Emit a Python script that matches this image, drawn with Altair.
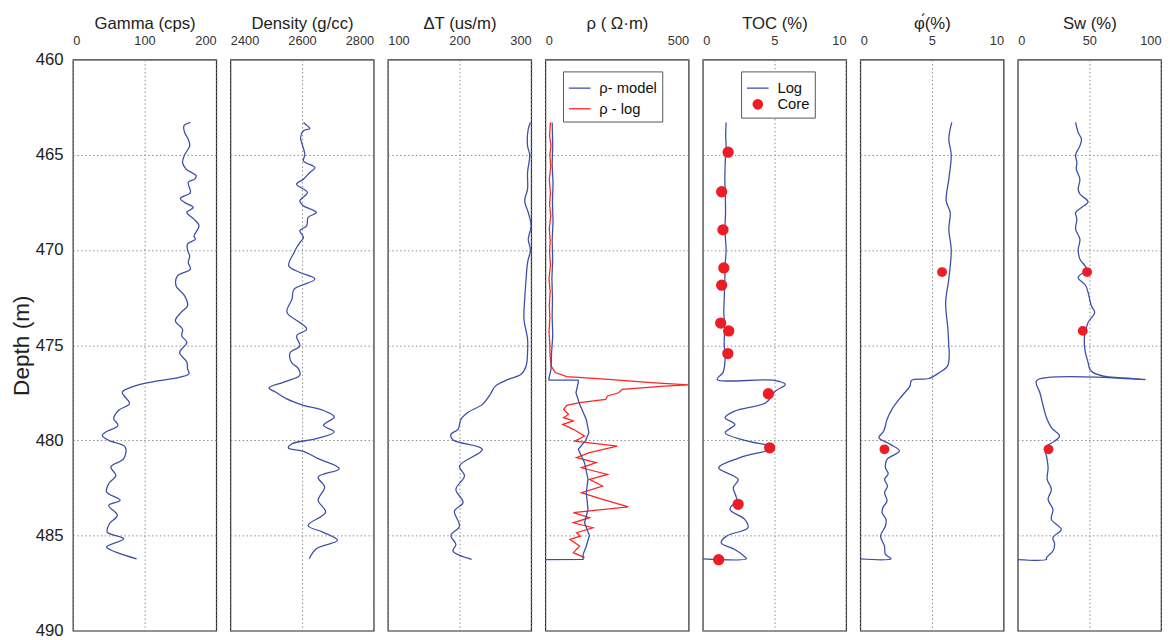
import altair as alt
import pandas as pd

# ---------------- data ----------------
gamma_depth = [463.30, 463.48, 463.83, 464.18, 464.53, 465.00, 465.40, 465.75, 466.10, 466.28,
               466.45, 466.98, 467.29, 467.50, 467.77, 468.03, 468.38, 468.73, 469.26, 469.43,
               469.69, 470.00, 470.31, 470.66, 471.01, 471.36, 471.88, 472.41, 472.93, 473.28,
               473.72, 474.16, 474.51, 474.86, 475.39, 475.88, 476.23, 476.50, 476.67, 476.94,
               477.11, 477.46, 477.64, 478.07, 478.42, 478.86, 479.21, 479.56, 479.74, 480.00,
               480.35, 480.96, 481.40, 481.84, 482.28, 482.71, 483.15, 483.42, 483.94, 484.38,
               484.82, 485.17, 485.60, 485.87, 486.22]
gamma_cps = [164, 155, 156, 161, 163, 156, 153, 158, 172, 170,
             161, 164, 150, 156, 168, 159, 169, 176, 169, 171,
             160, 160, 163, 161, 164, 146, 144, 156, 160, 151,
             143, 153, 152, 159, 149, 159, 160, 162, 151, 110,
             89, 69, 71, 79, 64, 57, 63, 46, 41, 50,
             73, 71, 53, 60, 50, 47, 66, 50, 62, 51,
             48, 71, 47, 60, 89]

density_depth = [463.30, 463.48, 463.62, 463.74, 464.09, 464.53, 465.00, 465.32, 465.67, 465.93,
                 466.28, 466.54, 466.98, 467.42, 467.68, 468.03, 468.29, 468.73, 468.99, 469.34,
                 469.61, 469.87, 470.13, 470.83, 471.18, 471.53, 472.06, 472.58, 473.28, 473.81,
                 474.16, 474.51, 475.04, 475.39, 475.88, 476.23, 476.58, 476.94, 477.25, 477.46,
                 477.81, 478.16, 478.42, 478.77, 479.21, 479.56, 479.91, 480.18, 480.40, 480.58,
                 480.96, 481.49, 481.93, 482.45, 483.15, 483.77, 484.47, 484.82, 485.25, 485.69,
                 486.22]
density_gcc = [2604, 2615, 2622, 2604, 2596, 2602, 2608, 2604, 2636, 2622,
               2604, 2585, 2615, 2594, 2604, 2640, 2617, 2613, 2594, 2604,
               2594, 2585, 2578, 2563, 2594, 2636, 2578, 2572, 2558, 2594,
               2613, 2585, 2594, 2567, 2570, 2590, 2594, 2549, 2508, 2526,
               2556, 2604, 2658, 2690, 2660, 2690, 2640, 2572, 2562, 2604,
               2645, 2704, 2645, 2663, 2645, 2666, 2617, 2658, 2699, 2640,
               2620]

dt_depth = [463.30, 463.65, 464.53, 465.00, 465.93, 466.80, 467.42, 468.03, 468.73, 469.43,
            470.00, 470.66, 471.53, 472.58, 473.63, 474.68, 475.39, 476.09, 476.53, 476.80,
            477.15, 477.58, 478.11, 478.55, 478.90, 479.42, 479.68, 479.98, 480.47, 481.35,
            481.87, 482.57, 483.27, 483.71, 484.50, 485.00, 485.46, 485.81, 486.25]
dt_usm = [299, 296, 295, 298, 295, 295, 291, 296, 300, 296,
          299, 295, 293, 291, 290, 295, 295, 293, 286, 268,
          250, 243, 232, 211, 202, 198, 188, 191, 232, 200,
          207, 195, 205, 193, 200, 188, 195, 191, 217]

rho_model_depth = [463.30, 464.50, 465.50, 466.50, 467.50, 468.50, 469.50, 470.50, 471.50, 472.50,
                   473.50, 474.50, 475.39, 476.27, 476.71, 476.83, 476.84, 476.97, 477.50, 478.11,
                   478.90, 479.60, 480.00, 480.47, 481.17, 482.05, 482.75, 483.63, 484.33, 485.00,
                   485.56, 485.99, 486.25, 486.26]
rho_model = [24, 26, 24, 27, 25, 27, 24, 26, 23, 25,
             24, 26, 22, 20, 13, 13, 115, 115, 107, 120,
             143, 152, 141, 115, 137, 149, 143, 149, 137, 154,
             143, 132, 132, 1]

rho_log_depth = [463.30, 464.00, 464.50, 465.00, 465.60, 466.30, 467.00, 467.60, 468.20, 468.90,
                 469.50, 470.10, 470.80, 471.50, 472.20, 472.90, 473.60, 474.30, 475.00, 475.39,
                 476.09, 476.44, 476.65, 476.80, 476.97, 477.09, 477.15, 477.32, 477.50, 477.67,
                 477.85, 478.02, 478.16, 478.37, 478.63, 478.81, 478.98, 479.16, 479.42, 479.77,
                 480.04, 480.30, 480.65, 480.91, 481.17, 481.44, 481.79, 482.05, 482.40, 482.75,
                 483.10, 483.49, 483.80, 484.06, 484.33, 484.59, 484.85, 485.03, 485.20, 485.55,
                 485.90, 486.16]
rho_log = [18, 15, 20, 16, 19, 14, 18, 15, 19, 14,
           17, 15, 18, 13, 17, 14, 16, 13, 16, 16,
           20, 35, 75, 221, 370, 500, 415, 268, 256, 217,
           211, 120, 75, 64, 81, 64, 98, 61, 98, 137,
           103, 251, 154, 109, 177, 126, 217, 154, 200, 126,
           200, 290, 98, 154, 98, 166, 109, 122, 86, 120,
           98, 137]

toc_depth = [463.30, 464.00, 464.53, 465.00, 465.80, 466.28, 467.00, 468.03, 469.00, 470.00,
             470.80, 471.53, 472.50, 473.28, 474.00, 475.04, 475.39, 476.09, 476.44, 476.80,
             476.85, 477.06, 477.41, 478.02, 478.46, 478.81, 479.16, 479.60, 480.00, 480.39,
             480.91, 481.44, 482.05, 482.49, 483.10, 483.63, 484.15, 484.59, 485.03, 485.38,
             485.73, 486.11, 486.22, 486.23]
toc_log = [1.63, 1.60, 1.63, 1.59, 1.55, 1.54, 1.57, 1.59, 1.55, 1.63,
           1.56, 1.54, 1.50, 1.47, 1.52, 1.50, 1.56, 1.52, 1.41, 1.00,
           4.97, 5.76, 5.08, 4.40, 2.24, 1.56, 2.24, 1.56, 2.93, 4.97,
           2.59, 1.11, 2.47, 2.13, 2.36, 1.90, 2.93, 3.15, 1.65, 1.29,
           2.24, 2.93, 3.04, 0.0]
toc_core_depth = [464.86, 466.94, 468.94, 470.94, 471.85, 473.84, 474.25, 475.44,
                  477.55, 480.39, 483.36, 486.27]
toc_core = [1.77, 1.32, 1.41, 1.47, 1.32, 1.25, 1.81, 1.75,
            4.58, 4.67, 2.47, 1.11]

phi_depth = [463.30, 464.18, 465.00, 466.28, 467.42, 468.03, 468.90, 470.00, 471.53, 472.76,
             474.16, 475.04, 475.39, 476.09, 476.44, 476.75, 476.85, 477.15, 477.67, 478.37,
             478.90, 479.51, 479.86, 480.21, 480.56, 481.00, 481.44, 481.75, 482.05, 482.40,
             482.75, 483.19, 483.50, 483.80, 484.15, 484.50, 485.03, 485.55, 485.99, 486.22,
             486.23]
phi_log = [6.39, 6.18, 6.35, 6.18, 6.00, 6.28, 6.18, 6.35, 6.18, 5.96,
           6.12, 6.18, 6.21, 6.10, 5.53, 4.80, 3.58, 3.47, 2.90, 2.21,
           1.87, 1.64, 1.30, 2.10, 2.74, 1.87, 1.76, 1.95, 1.70, 1.90,
           1.70, 1.87, 1.60, 1.53, 1.80, 1.76, 1.42, 1.69, 1.76, 2.15,
           0.0]
phi_core_depth = [471.16, 480.47]
phi_core = [5.71, 1.69]

sw_depth = [463.30, 463.83, 464.18, 464.53, 465.00, 465.40, 465.75, 466.28, 466.80, 467.06,
            467.47, 467.77, 468.03, 468.38, 468.90, 469.43, 470.00, 470.48, 471.01, 471.44,
            471.88, 472.93, 473.28, 473.81, 474.42, 475.21, 475.91, 476.26, 476.44, 476.62,
            476.71, 476.80, 476.86, 477.50, 478.20, 478.81, 479.33, 479.77, 480.04, 480.39,
            480.82, 481.44, 482.05, 482.57, 483.10, 483.63, 484.15, 484.68, 485.11, 485.46,
            485.81, 486.16, 486.25, 486.26]
sw_log = [40.4, 42.2, 44.5, 43.4, 40.4, 41.3, 40.9, 43.4, 42.2, 43.4,
          49.1, 44.5, 40.4, 41.3, 40.4, 43.4, 42.2, 43.4, 48.0, 42.2,
          47.5, 51.4, 53.7, 49.1, 46.8, 46.8, 49.1, 50.3, 52.7, 60.0,
          71.0, 89.0, 13.2, 15.5, 17.8, 20.1, 23.5, 29.2, 25.8, 19.0,
          20.1, 21.2, 20.6, 23.5, 21.2, 24.6, 23.5, 30.4, 24.6, 25.8,
          24.6, 20.1, 20.1, 0.0]
sw_core_depth = [471.16, 474.25, 480.47]
sw_core = [48.4, 45.4, 21.5]

y_ticks = [460, 465, 470, 475, 480, 485, 490]
rho_series = ["\u03c1- model", "\u03c1   - log"]
toc_series = ["Log", "Core"]

# ---------------- style ----------------
FONT = "Liberation Sans"
BLUE = "#3c4fa8"
RED = "#ff2424"
CORE = "#ee1c24"
PANEL_W = 145.8
PANEL_H = 581
LW = 1.3
SMOOTH = "catmull-rom"


def frame(depths, vals, series=None):
    d = pd.DataFrame({"depth": depths, "val": vals})
    d["idx"] = range(len(d))
    if series is not None:
        d["series"] = series
    return d


def y_enc(first):
    if first:
        axis = alt.Axis(values=y_ticks, title="Depth (m)", labelFontSize=17, titleFontSize=23,
                        labelPadding=10, titlePadding=2, ticks=False, tickSize=0, domain=False,
                        titleFontWeight="normal", labelColor="#222", titleColor="#222")
    else:
        axis = alt.Axis(values=y_ticks, title=None, labels=False, ticks=False, tickSize=0,
                        labelPadding=0, domain=False, minExtent=0, maxExtent=0)
    return alt.Y("depth:Q", scale=alt.Scale(domain=[460, 490], reverse=True, nice=False, zero=False),
                  axis=axis)


def x_enc(title, domain, ticks):
    return alt.X("val:Q", scale=alt.Scale(domain=domain, nice=False, zero=False),
                 axis=alt.Axis(orient="top", values=ticks, title=title, labelFlush=True, format="d",
                               ticks=False, tickSize=0, domain=False, labelFontSize=13,
                               titleFontSize=17, labelPadding=12, titlePadding=3,
                               titleFontWeight="normal", labelColor="#333", titleColor="#222"))


def line_panel(depths, vals, title, domain, ticks, first=False, core=None):
    base = alt.Chart(frame(depths, vals)).mark_line(
        color=BLUE, strokeWidth=LW, clip=True, interpolate=SMOOTH).encode(
        x=x_enc(title, domain, ticks), y=y_enc(first), order="idx:Q")
    layers = [base]
    if core is not None:
        pts = alt.Chart(frame(core[0], core[1])).mark_point(
            filled=True, color=CORE, size=100, opacity=1).encode(
            x=x_enc(title, domain, ticks), y=y_enc(first))
        layers.append(pts)
    return alt.layer(*layers).properties(width=PANEL_W, height=PANEL_H)


p_gamma = line_panel(gamma_depth, gamma_cps, "Gamma (cps)", [0, 200], [0, 100, 200], first=True)
p_dens = line_panel(density_depth, density_gcc, "Density (g/cc)", [2400, 2800], [2400, 2600, 2800])
p_dt = line_panel(dt_depth, dt_usm, "\u0394T (us/m)", [100, 300], [100, 200, 300])

# resistivity panel
rho_leg = alt.Legend(title=None, orient="none", legendX=18, legendY=12,
                     symbolType="stroke", symbolSize=484, symbolStrokeWidth=LW,
                     labelFontSize=15, labelFont=FONT, strokeColor="#555",
                     fillColor="white", padding=5, rowPadding=1,
                     labelOffset=8, labelColor="#111")
rho_model_chart = alt.Chart(frame(rho_model_depth, rho_model, rho_series[0])).mark_line(
    strokeWidth=LW, clip=True).encode(
    x=x_enc("\u03c1 ( \u03a9\u00b7m)", [0, 500], [0, 500]), y=y_enc(False), order="idx:Q",
    stroke=alt.Stroke("series:N", scale=alt.Scale(domain=rho_series, range=[BLUE, RED]), legend=rho_leg))
rho_log_chart = alt.Chart(frame(rho_log_depth, rho_log, rho_series[1])).mark_line(
    strokeWidth=LW, clip=True).encode(
    x=x_enc("\u03c1 ( \u03a9\u00b7m)", [0, 500], [0, 500]), y=y_enc(False), order="idx:Q",
    stroke=alt.Stroke("series:N", scale=alt.Scale(domain=rho_series, range=[BLUE, RED]), legend=rho_leg))
p_rho = alt.layer(rho_log_chart, rho_model_chart).properties(width=PANEL_W, height=PANEL_H)

# TOC panel
toc_leg = alt.Legend(title=None, orient="none", legendX=39, legendY=12, symbolStrokeWidth=LW,
                     labelFontSize=15, labelFont=FONT, strokeColor="#555", fillColor="white",
                     padding=5, rowPadding=1, labelOffset=8, labelColor="#111")
toc_line = alt.Chart(frame(toc_depth, toc_log, "Log")).mark_line(
    strokeWidth=LW, clip=True, interpolate=SMOOTH).encode(
    x=x_enc("TOC (%)", [0, 10], [0, 5, 10]), y=y_enc(False), order="idx:Q",
    stroke=alt.Stroke("series:N", scale=alt.Scale(domain=toc_series, range=[BLUE, CORE]), legend=toc_leg))
toc_pts = alt.Chart(frame(toc_core_depth, toc_core, "Core")).mark_point(filled=True, opacity=1).encode(
    x=x_enc("TOC (%)", [0, 10], [0, 5, 10]), y=y_enc(False),
    stroke=alt.Stroke("series:N", scale=alt.Scale(domain=toc_series, range=[BLUE, CORE]), legend=toc_leg),
    fill=alt.Fill("series:N", scale=alt.Scale(domain=toc_series, range=["transparent", CORE]), legend=toc_leg),
    shape=alt.Shape("series:N", scale=alt.Scale(domain=toc_series, range=["stroke", "circle"]), legend=toc_leg),
    size=alt.Size("series:N", scale=alt.Scale(domain=toc_series, range=[484, 90]), legend=toc_leg))
p_toc = alt.layer(toc_line, toc_pts).properties(width=PANEL_W, height=PANEL_H)

p_phi = line_panel(phi_depth, phi_log, "\u03c6\u0301(%)", [0, 10], [0, 5, 10],
                   core=(phi_core_depth, phi_core))
p_sw = line_panel(sw_depth, sw_log, "Sw (%)", [0, 100], [0, 50, 100],
                  core=(sw_core_depth, sw_core))

chart = alt.hconcat(p_gamma, p_dens, p_dt, p_rho, p_toc, p_phi, p_sw, spacing=12.2).resolve_scale(
    x="independent", stroke="independent", fill="independent", shape="independent", size="independent"
).resolve_legend(stroke="independent", fill="independent", shape="independent", size="independent"
).properties(padding={"left": 2, "top": 0, "right": 0, "bottom": 0}).configure(
    font=FONT
).configure_view(
    stroke="#2a2a2a", strokeWidth=1.2
).configure_axis(
    gridColor="#8a8a8a", gridDash=[1.5, 2.5], gridWidth=1, gridOpacity=1
)

chart.save("out.html", embed_options={"renderer": "svg", "actions": False})
